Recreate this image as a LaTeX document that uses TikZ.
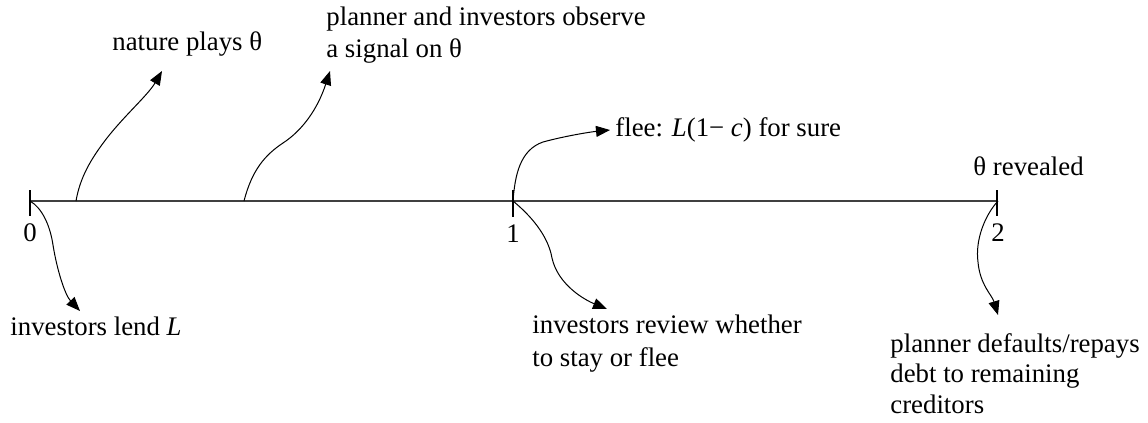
\documentclass[tikz,border=0pt]{standalone}
\usepackage{fontspec}
\setmainfont{Liberation Serif}
\usetikzlibrary{arrows.meta}
\begin{document}
\begin{tikzpicture}[x=0.5pt,y=-0.5pt,
  lbl/.style={inner sep=0pt,anchor=base west,align=left,font=\fontsize{13.4}{16}\selectfont},
  num/.style={inner sep=0pt,anchor=base,font=\fontsize{13.4}{16}\selectfont},
  axis/.style={line width=0.8pt,draw=black!75},
  tick/.style={line width=0.6pt},
  conn/.style={line width=0.5pt,-{Triangle[length=7pt,width=5.5pt]}}]
\useasboundingbox (0,0) rectangle (1148,423);
% timeline
\coordinate (t0) at (30,201);
\coordinate (t1) at (513,201);
\coordinate (t2) at (997,201);
\draw[axis] (t0) -- (t2);
\draw[tick] (30,190) -- (30,216);
\draw[tick] (513,190) -- (513,217);
\draw[tick] (997,190) -- (997,216);
% labels (multi-line nodes: base = last line)
\node[num] (n0) at (30,241) {0};
\node[num] (n1) at (513,242) {1};
\node[num] (n2) at (998,241) {2};
\node[lbl] (nature) at (112,50) {nature plays θ};
\node[lbl] (signal) at (326,57) {planner and investors observe\\a signal on θ};
\node[lbl] (flee) at (615,136) {flee: \textit{L}(1− \textit{c}) for sure};
\node[lbl] (reveal) at (973,175) {θ revealed};
\node[lbl] (lend) at (10,335) {investors lend \textit{L}};
\node[lbl,font=\fontsize{13.4}{16.5}\selectfont] (review) at (532,366) {investors review whether\\to stay or flee};
\node[lbl,font=\fontsize{13.4}{15.2}\selectfont] (repay) at (890,413) {planner defaults/repays\\debt to remaining\\creditors};
% connector end points
\coordinate (a0) at (76,201);  \coordinate (a1) at (162,71);
\coordinate (b0) at (244,201); \coordinate (b1) at (330,71);
\coordinate (c1) at (610,130);
\coordinate (d1) at (80,311);
\coordinate (e1) at (607,309);
\coordinate (f0) at (998,201); \coordinate (f1) at (998,315);
% connectors
\draw[conn] (a0) .. controls (80,178) and (90,160) .. (107,138) .. controls (125,115) and (148,95) .. (a1);
\draw[conn] (b0) .. controls (252,170) and (265,155) .. (283,143) .. controls (303,130) and (318,108) .. (b1);
\draw[conn] (t1) .. controls (515,175) and (520,150) .. (543,142) .. controls (565,136) and (590,132) .. (c1);
\draw[conn] (t0) .. controls (42,208) and (50,225) .. (53,245) .. controls (57,270) and (65,295) .. (d1);
\draw[conn] (t1) .. controls (530,215) and (548,235) .. (552,258) .. controls (558,285) and (585,300) .. (e1);
\draw[conn] (f0) .. controls (985,215) and (975,240) .. (978,262) .. controls (980,285) and (992,295) .. (f1);
\end{tikzpicture}
\end{document}
